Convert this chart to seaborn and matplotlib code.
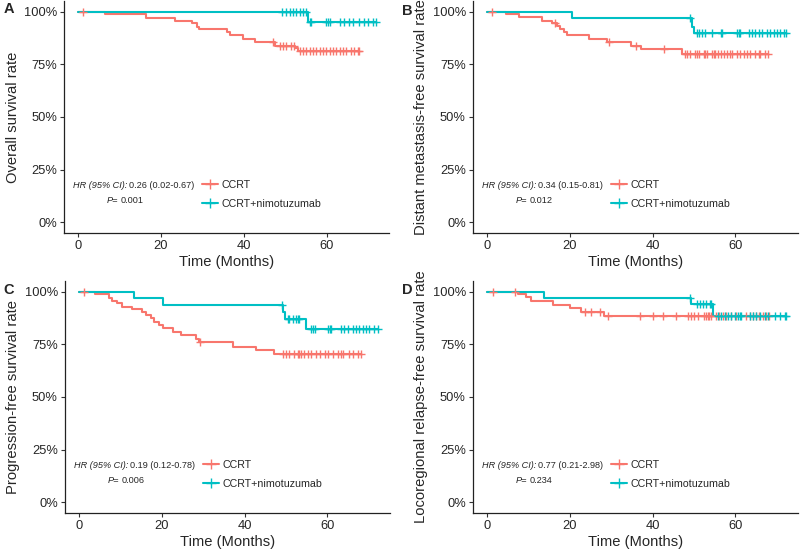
import numpy as np
import matplotlib
matplotlib.use("Agg")
import matplotlib.pyplot as plt
import seaborn as sns
from matplotlib.lines import Line2D
from matplotlib import font_manager

# KM step data (months, survival fraction after each drop)
A_ccrt_events = [6.5, 16.5, 23.4, 27.4, 28.6, 29.3, 35.9, 36.7, 39.9, 42.7, 47.5, 52.4, 53.0]
A_ccrt_surv = [0.987, 0.968, 0.955, 0.944, 0.928, 0.917, 0.901, 0.889, 0.869, 0.854, 0.838, 0.825, 0.812]
A_ccrt_censor = [1.2, 47.1, 48.7, 49.5, 50.3, 51.5, 52.2, 53.5, 54.3, 55.1, 55.9, 56.7, 57.5, 58.3, 59.1,
                 59.9, 60.7, 61.5, 62.3, 63.1, 63.9, 64.7, 65.9, 66.7, 67.5, 67.9]
A_nimo_events = [55.5]
A_nimo_surv = [0.95]
A_nimo_censor = [49.1, 50.3, 51.1, 51.9, 52.7, 53.5, 54.3, 55.1, 55.9, 56.3, 59.9, 60.3, 60.7, 63.1,
                 64.3, 65.5, 66.3, 67.9, 69.1, 69.9, 71.1, 71.9]

B_ccrt_events = [4.7, 7.7, 13.3, 15.7, 16.9, 17.6, 18.5, 19.4, 24.6, 29.0, 34.7, 37.1, 47.2]
B_ccrt_surv = [0.989, 0.973, 0.957, 0.944, 0.932, 0.916, 0.901, 0.889, 0.869, 0.854, 0.838, 0.822, 0.801]
B_ccrt_censor = [1.2, 16.5, 29.4, 35.9, 42.7, 47.9, 48.3, 49.1, 50.3, 50.7, 51.1, 52.3, 52.7, 53.1, 54.3,
                 54.7, 55.1, 55.9, 56.4, 57.2, 58.0, 58.8, 59.2, 60.4, 61.2, 62.0, 62.8, 63.6, 64.8,
                 65.6, 66.0, 67.2, 67.9]
B_nimo_events = [20.6, 49.4, 50.0]
B_nimo_surv = [0.968, 0.925, 0.90]
B_nimo_censor = [49.1, 50.7, 51.1, 51.9, 52.7, 54.3, 56.4, 56.8, 60.4, 60.8, 61.2, 63.2, 64.0, 64.8,
                 65.6, 66.4, 67.6, 68.4, 69.2, 70.0, 70.8, 71.7, 72.2]

C_ccrt_events = [4.0, 7.3, 8.1, 9.3, 10.5, 12.9, 15.3, 16.1, 17.3, 18.1, 19.4, 20.2, 22.6, 24.6,
                 28.2, 29.0, 37.1, 42.7, 47.2]
C_ccrt_surv = [0.987, 0.971, 0.957, 0.944, 0.928, 0.916, 0.904, 0.889, 0.873, 0.857, 0.841, 0.825,
               0.809, 0.793, 0.777, 0.761, 0.737, 0.721, 0.702]
C_ccrt_censor = [1.2, 29.3, 49.2, 50.0, 50.8, 52.0, 52.8, 53.2, 53.6, 54.4, 55.2, 56.0, 57.3, 58.1,
                 59.3, 60.1, 61.3, 62.5, 63.3, 63.7, 65.3, 66.1, 67.3, 68.1]
C_nimo_events = [13.3, 20.4, 49.3, 49.7, 54.9]
C_nimo_surv = [0.968, 0.935, 0.903, 0.872, 0.82]
C_nimo_censor = [49.1, 50.4, 50.8, 51.6, 52.3, 52.8, 53.2, 56.1, 56.5, 56.9, 60.1, 60.5, 60.9, 63.3,
                 64.1, 64.9, 66.1, 66.9, 67.7, 68.5, 69.3, 70.1, 71.3, 72.2]

D_ccrt_events = [7.5, 9.5, 10.6, 16.0, 20.0, 22.8, 28.2]
D_ccrt_surv = [0.987, 0.973, 0.955, 0.936, 0.92, 0.904, 0.882]
D_ccrt_censor = [1.5, 6.7, 23.6, 25.2, 27.3, 29.3, 36.9, 40.2, 42.5, 45.7, 48.5, 49.3, 50.1, 50.9,
                 52.5, 52.9, 53.3, 53.7, 54.1, 55.3, 56.1, 56.9, 57.7, 58.9, 60.2, 62.6, 63.4, 64.2,
                 65.0, 65.8, 66.6, 67.4, 68.2]
D_nimo_events = [13.7, 49.3, 54.6]
D_nimo_surv = [0.968, 0.94, 0.882]
D_nimo_censor = [49.1, 50.6, 51.4, 52.2, 53.0, 53.8, 54.2, 55.8, 56.6, 57.4, 58.2, 59.0, 59.8, 60.6,
                 61.0, 61.4, 63.4, 64.2, 65.0, 65.9, 67.1, 67.9, 69.5, 70.7, 71.9, 72.3]

panel_letters = ["A", "B", "C", "D"]
ylabels = ["Overall survival rate", "Distant metastasis-free survival rate",
           "Progression-free survival rate", "Locoregional relapse-free survival rate"]
hr_texts = ["0.26 (0.02-0.67)", "0.34 (0.15-0.81)", "0.19 (0.12-0.78)", "0.77 (0.21-2.98)"]
p_texts = ["0.001", "0.012", "0.006", "0.234"]
group_labels = ["CCRT", "CCRT+nimotuzumab"]
group_colors = ["#F8766D", "#00BFC4"]
x_ticks = [0, 20, 40, 60]
y_ticks = [0, 0.25, 0.5, 0.75, 1.0]
y_ticklabels = ["0%", "25%", "50%", "75%", "100%"]

sns.set_theme(style="ticks")
plt.rcParams["font.family"] = ["Liberation Sans", "DejaVu Sans"]

installed = {f.name for f in font_manager.fontManager.ttflist}
note_family = "Liberation Sans Narrow" if "Liberation Sans Narrow" in installed else "Liberation Sans"
note_size = 7.5 if note_family == "Liberation Sans Narrow" else 6.6


def km_step(events, surv, censor):
    t = np.array([0.0] + list(events) + [max(censor)])
    s = np.array([1.0] + list(surv) + [surv[-1]])
    levels = np.array([1.0] + list(surv))
    idx = np.searchsorted(np.array(events), np.array(censor), side="right")
    return t, s, np.array(censor), levels[idx]


panels = [
    [(A_ccrt_events, A_ccrt_surv, A_ccrt_censor), (A_nimo_events, A_nimo_surv, A_nimo_censor)],
    [(B_ccrt_events, B_ccrt_surv, B_ccrt_censor), (B_nimo_events, B_nimo_surv, B_nimo_censor)],
    [(C_ccrt_events, C_ccrt_surv, C_ccrt_censor), (C_nimo_events, C_nimo_surv, C_nimo_censor)],
    [(D_ccrt_events, D_ccrt_surv, D_ccrt_censor), (D_nimo_events, D_nimo_surv, D_nimo_censor)],
]

fig = plt.figure(figsize=(8, 5.49), dpi=100)
rects = [[0.080, 0.5756, 0.406, 0.4226], [0.591, 0.5756, 0.406, 0.4226],
         [0.081, 0.0656, 0.406, 0.4226], [0.591, 0.0656, 0.406, 0.4226]]
letter_pos = [(0.004, 0.997), (0.503, 0.993), (0.004, 0.484), (0.503, 0.484)]

for i, groups in enumerate(panels):
    ax = fig.add_axes(rects[i])
    for (ev, sv, cz), col in zip(groups, group_colors):
        t, s, ct, cs = km_step(ev, sv, cz)
        sns.lineplot(x=t, y=s, drawstyle="steps-post", color=col, linewidth=1.5,
                     estimator=None, sort=False, errorbar=None, ax=ax)
        sns.scatterplot(x=ct, y=cs, marker="+", color=col, s=34, linewidth=1.0,
                        ax=ax, zorder=3)

    ax.set_xlim(-3.4, 75.0)
    ax.set_ylim(-0.05, 1.05)
    ax.set_xticks(x_ticks)
    ax.set_yticks(y_ticks)
    ax.set_yticklabels(y_ticklabels)
    ax.tick_params(labelsize=9.3, length=3, width=0.8, pad=2, color="#333333")
    ax.set_xlabel("Time (Months)", fontsize=10.6, labelpad=2)
    ax.set_ylabel(ylabels[i], fontsize=10.6, labelpad=3)
    for sp in ["left", "bottom"]:
        ax.spines[sp].set_linewidth(0.9)
        ax.spines[sp].set_color("#222222")
    sns.despine(ax=ax)

    # HR / P annotation: italic label followed by the plain value
    hr_lab = ax.text(-1.2, 0.177, "HR (95% CI):", style="italic", ha="left", va="center",
                     fontsize=note_size, family=note_family)
    ax.annotate(hr_texts[i], xy=(1, 0.5), xycoords=hr_lab, xytext=(1.5, 0),
                textcoords="offset points", ha="left", va="center",
                fontsize=note_size, family=note_family)
    p_lab = ax.text(7.0, 0.102, "P=", style="italic", ha="left", va="center",
                    fontsize=note_size, family=note_family)
    ax.annotate(p_texts[i], xy=(1, 0.5), xycoords=p_lab, xytext=(1.5, 0),
                textcoords="offset points", ha="left", va="center",
                fontsize=note_size, family=note_family)

    handles = [Line2D([0], [0], color=c, linewidth=1.5, marker="+", markersize=6.5,
                      markeredgewidth=1.0) for c in group_colors]
    ax.legend(handles, group_labels, loc="upper left", bbox_to_anchor=(0.425, 0.230),
              frameon=False, fontsize=7.7, borderpad=0, borderaxespad=0,
              handlelength=1.5, handletextpad=0.35, labelspacing=0.85)

    fig.text(letter_pos[i][0], letter_pos[i][1], panel_letters[i], fontsize=10.5,
             fontweight="bold", ha="left", va="top")

fig.savefig("out.png", dpi=100)
